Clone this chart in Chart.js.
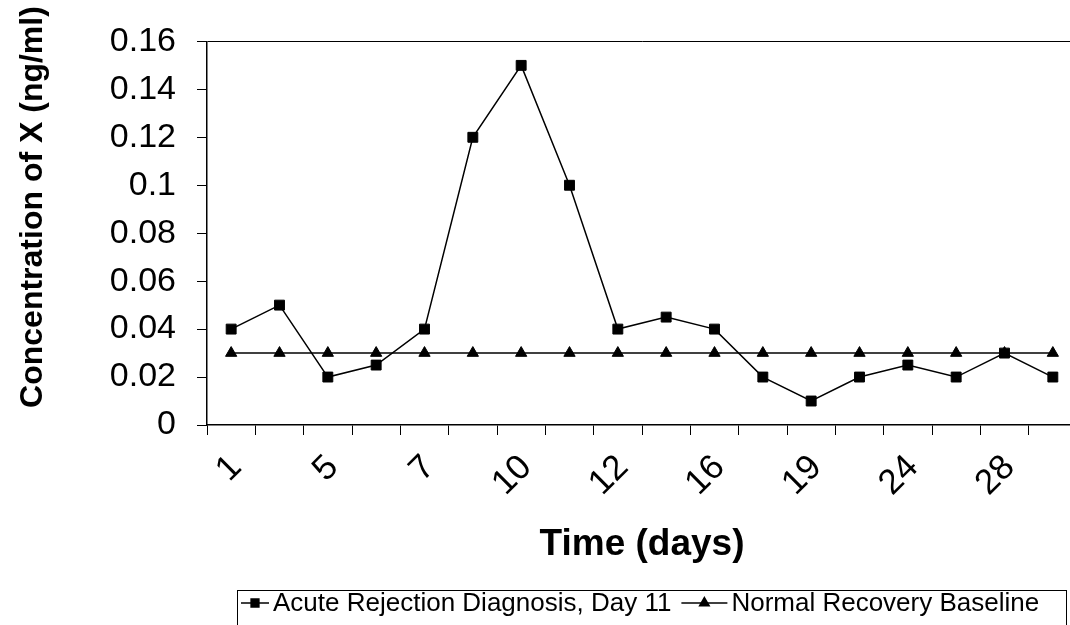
<!DOCTYPE html>
<html>
<head>
<meta charset="utf-8">
<script src="https://cdn.jsdelivr.net/npm/chart.js@4"></script>
<style>
  html, body { margin: 0; padding: 0; background: #fff; overflow: hidden; }
</style>
</head>
<body>
<canvas id="chart" width="1085" height="625"></canvas>
<script>
// sampling days (every other one is labelled on the axis)
const days = ["1", "3", "5", "6", "7", "8", "10", "11", "12", "14", "16", "17", "19", "21", "24", "26", "28", "30"];
const acuteRejection = [0.04, 0.05, 0.02, 0.025, 0.04, 0.12, 0.15, 0.10, 0.04, 0.045, 0.04, 0.02, 0.01, 0.02, 0.025, 0.02, 0.03, 0.02];
const normalBaseline = [0.03, 0.03, 0.03, 0.03, 0.03, 0.03, 0.03, 0.03, 0.03, 0.03, 0.03, 0.03, 0.03, 0.03, 0.03, 0.03, 0.03, 0.03];
const seriesNames = ["Acute Rejection Diagnosis, Day 11", "Normal Recovery Baseline"];
const yTicks = [0, 0.02, 0.04, 0.06, 0.08, 0.1, 0.12, 0.14, 0.16];
const yTitle = "Concentration of X (ng/ml)";

const FONT = "'Liberation Sans', Arial, Helvetica, sans-serif";

// y title sits a bit above the plot centre, so it is drawn by hand
const yAxisTitle = {
  id: "yAxisTitle",
  afterDraw(chart) {
    const { ctx } = chart;
    ctx.save();
    ctx.translate(33, 207);
    ctx.rotate(-Math.PI / 2);
    ctx.font = "bold 32px " + FONT;
    ctx.fillStyle = "#000";
    ctx.textAlign = "center";
    ctx.textBaseline = "middle";
    ctx.fillText(yTitle, 0, 0);
    ctx.restore();
  },
};

// boxed legend under the axis title, with line + marker samples
const boxedLegend = {
  id: "boxedLegend",
  afterDraw(chart) {
    const { ctx } = chart;
    const y = 603;
    ctx.save();
    ctx.strokeStyle = "#000";
    ctx.lineWidth = 1;
    ctx.strokeRect(237.5, 590.5, 829, 60);

    ctx.font = "26px " + FONT;
    ctx.textBaseline = "middle";
    ctx.textAlign = "left";
    ctx.fillStyle = "#000";

    let x = 241;
    chart.data.datasets.forEach((ds, i) => {
      const len = i === 0 ? 28 : 46;
      ctx.beginPath();
      ctx.lineWidth = 1.5;
      ctx.moveTo(x, y);
      ctx.lineTo(x + len, y);
      ctx.stroke();
      Chart.helpers.drawPoint(ctx, {
        pointStyle: ds.pointStyle,
        radius: 5.5,
        rotation: 0,
        borderWidth: 1,
      }, x + len / 2, y);
      ctx.fillStyle = "#000";
      ctx.fill();
      ctx.fillText(ds.label, x + len + 4, y + 1);
      x += len + 4 + ctx.measureText(ds.label).width + 10;
    });
    ctx.restore();
  },
};

new Chart(document.getElementById("chart"), {
  type: "line",
  data: {
    labels: days,
    datasets: [
      {
        label: seriesNames[0],
        data: acuteRejection,
        borderColor: "#000",
        backgroundColor: "#000",
        borderWidth: 1.5,
        pointStyle: "rect",
        pointRadius: 7,
        pointBorderWidth: 1,
        tension: 0,
      },
      {
        label: seriesNames[1],
        data: normalBaseline,
        borderColor: "#000",
        backgroundColor: "#000",
        borderWidth: 1.5,
        pointStyle: "triangle",
        pointRadius: 6.5,
        pointBorderWidth: 1,
        tension: 0,
      },
    ],
  },
  options: {
    responsive: false,
    devicePixelRatio: 1,
    animation: false,
    layout: {
      padding: { left: 0, right: 0, top: 40, bottom: 35 },
    },
    plugins: {
      legend: { display: false },
      tooltip: { enabled: false },
    },
    scales: {
      x: {
        offset: true,
        afterFit: (scale) => {
          scale.height = 165;
          scale.paddingLeft = 0;
          scale.paddingRight = 0;
        },
        grid: {
          offset: true,
          drawOnChartArea: false,
          color: "#000",
          tickLength: 10,
        },
        border: { display: true, color: "#000", width: 1.5 },
        ticks: {
          autoSkip: false,
          minRotation: 45,
          maxRotation: 45,
          padding: 12,
          labelOffset: 5,
          color: "#000",
          font: { family: FONT, size: 35 },
          callback: (value, index) => (index % 2 === 0 ? days[index] : ""),
        },
        title: {
          display: true,
          text: "Time (days)",
          color: "#000",
          font: { family: FONT, size: 37, weight: "bold" },
          padding: { top: 0, bottom: 23 },
        },
      },
      y: {
        min: yTicks[0],
        max: yTicks[yTicks.length - 1],
        afterFit: (scale) => { scale.width = 207; },
        afterBuildTicks: (scale) => {
          scale.ticks = yTicks.map((v) => ({ value: v }));
        },
        grid: {
          color: (ctx) => (ctx.tick && ctx.tick.value === yTicks[yTicks.length - 1] ? "#000" : "rgba(0,0,0,0)"),
          tickColor: "#000",
          tickLength: 10,
        },
        border: { display: true, color: "#000", width: 1.5 },
        ticks: {
          padding: 21,
          color: "#000",
          font: { family: FONT, size: 34 },
          callback: (value) => String(+value.toFixed(2)),
        },
      },
    },
  },
  plugins: [yAxisTitle, boxedLegend],
});
</script>
</body>
</html>
